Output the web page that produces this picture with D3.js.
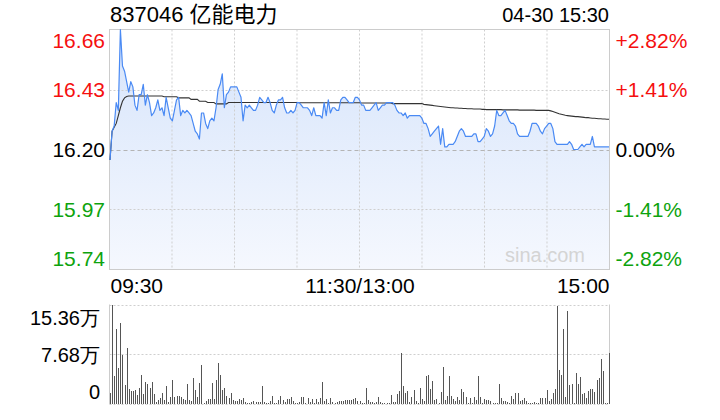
<!DOCTYPE html>
<html><head><meta charset="utf-8">
<script src="https://cdn.jsdelivr.net/npm/d3@7"></script>
<style>
html,body{margin:0;padding:0;background:#fff;}
svg{display:block;font-family:"Liberation Sans",Arial,Helvetica,"Noto Sans CJK SC",sans-serif;}
</style></head><body>
<svg id="chart" width="720" height="420"></svg>
<script>
const titleText = "837046 亿能电力";
const dateText = "04-30 15:30";
const preClose = 16.20;

// minute prices 09:30..11:30 / 13:00..15:00 (241 points)
const prices = [
16.16,16.27,16.29,16.38,16.35,16.66,16.52,16.50,16.46,16.42,
16.46,16.44,16.37,16.35,16.41,16.41,16.45,16.37,16.41,16.38,
16.33,16.34,16.36,16.39,16.35,16.36,16.33,16.40,16.36,16.32,
16.31,16.35,16.39,16.40,16.33,16.35,16.34,16.35,16.34,16.33,
16.30,16.27,16.26,16.24,16.34,16.34,16.30,16.28,16.31,16.32,
16.31,16.36,16.43,16.45,16.49,16.36,16.41,16.42,16.44,16.44,
16.44,16.44,16.42,16.40,16.31,16.37,16.36,16.37,16.36,16.35,
16.35,16.37,16.40,16.39,16.38,16.38,16.40,16.38,16.35,16.34,
16.37,16.39,16.39,16.40,16.36,16.34,16.34,16.35,16.34,16.35,
16.38,16.38,16.37,16.36,16.36,16.36,16.35,16.33,16.36,16.33,
16.33,16.33,16.32,16.38,16.33,16.39,16.34,16.36,16.36,16.35,
16.35,16.39,16.40,16.40,16.39,16.38,16.38,16.38,16.40,16.40,
16.39,16.37,16.37,16.35,16.35,16.35,16.36,16.37,16.38,16.35,
16.36,16.37,16.37,16.38,16.38,16.38,16.38,16.37,16.35,16.34,
16.34,16.33,16.34,16.32,16.33,16.33,16.33,16.33,16.33,16.33,
16.32,16.30,16.30,16.28,16.25,16.26,16.27,16.28,16.29,16.22,
16.28,16.21,16.21,16.22,16.22,16.22,16.23,16.25,16.27,16.28,
16.27,16.25,16.25,16.25,16.25,16.26,16.26,16.23,16.23,16.24,
16.25,16.28,16.27,16.25,16.26,16.29,16.35,16.33,16.33,16.34,
16.35,16.33,16.31,16.30,16.30,16.29,16.26,16.25,16.25,16.25,
16.25,16.25,16.27,16.30,16.30,16.30,16.29,16.27,16.26,16.28,
16.29,16.30,16.30,16.28,16.23,16.22,16.22,16.22,16.22,16.22,
16.22,16.23,16.22,16.20,16.20,16.20,16.21,16.22,16.21,16.22,
16.22,16.22,16.25,16.21,16.21,16.21,16.21,16.21,16.21,16.21,
16.21
];

// average price line
const avgPrices = [
16.160,16.270,16.285,16.300,16.330,16.360,16.385,16.398,16.403,16.405,
16.405,16.405,16.405,16.405,16.405,16.405,16.405,16.405,16.405,16.405,
16.405,16.405,16.405,16.405,16.405,16.405,16.402,16.402,16.402,16.402,
16.402,16.402,16.402,16.398,16.398,16.398,16.398,16.398,16.398,16.392,
16.392,16.392,16.392,16.385,16.385,16.385,16.385,16.380,16.380,16.380,
16.380,16.375,16.375,16.375,16.375,16.375,16.375,16.380,16.380,16.380,
16.380,16.380,16.380,16.380,16.380,16.380,16.380,16.380,16.380,16.380,
16.380,16.380,16.380,16.380,16.380,16.380,16.380,16.380,16.380,16.380,
16.380,16.380,16.380,16.380,16.380,16.380,16.380,16.380,16.380,16.380,
16.380,16.379,16.379,16.379,16.379,16.379,16.379,16.379,16.379,16.379,
16.379,16.379,16.379,16.379,16.379,16.379,16.379,16.379,16.379,16.379,
16.379,16.379,16.379,16.379,16.379,16.379,16.379,16.379,16.379,16.379,
16.379,16.378,16.378,16.378,16.378,16.378,16.378,16.378,16.378,16.378,
16.378,16.378,16.378,16.378,16.378,16.378,16.376,16.376,16.376,16.376,
16.376,16.376,16.376,16.376,16.376,16.376,16.376,16.376,16.376,16.376,
16.376,16.373,16.372,16.371,16.370,16.369,16.368,16.367,16.366,16.365,
16.364,16.363,16.362,16.361,16.360,16.360,16.359,16.359,16.358,16.358,
16.357,16.357,16.356,16.356,16.356,16.355,16.355,16.355,16.355,16.354,
16.354,16.353,16.353,16.353,16.353,16.353,16.353,16.353,16.353,16.352,
16.352,16.352,16.352,16.352,16.352,16.352,16.352,16.351,16.351,16.351,
16.351,16.351,16.351,16.351,16.351,16.350,16.350,16.350,16.350,16.350,
16.350,16.350,16.348,16.346,16.343,16.340,16.337,16.335,16.333,16.331,
16.330,16.329,16.328,16.327,16.326,16.326,16.325,16.324,16.323,16.322,
16.322,16.321,16.320,16.320,16.319,16.318,16.318,16.317,16.317,16.316,
16.316
];

// minute volume, in 万
const volumes = [
1.75,15.36,4.33,11.55,5.62,12.58,7.58,2.94,8.71,2.32,
2.06,2.06,2.16,1.39,2.42,4.48,1.55,3.45,3.09,2.42,
3.40,1.55,0.36,0.62,0.88,1.65,0.62,2.78,0.36,1.13,
3.71,1.03,1.24,1.24,1.13,0.77,0.62,3.09,0.62,0.46,
4.02,2.16,1.13,3.30,5.98,0.10,0.46,0.72,0.72,3.30,
0.72,3.71,6.34,4.48,2.16,2.42,1.24,0.88,1.75,0.62,
0.46,0.46,0.77,0.62,0.93,0.36,0.10,0.21,0.31,0.46,
0.26,0.26,0.26,2.78,0.26,0.21,0.10,0.46,1.24,0.10,
0.21,0.62,1.24,0.62,0.31,0.82,0.72,1.03,0.46,0.21,
0.10,0.36,1.03,1.03,0.21,0.93,0.36,0.82,0.21,0.72,
0.31,0.88,3.40,0.46,0.72,0.10,0.93,0.31,0.21,0.31,
0.41,0.41,0.52,0.57,0.57,0.57,0.62,0.77,0.93,0.52,
0.46,0.21,0.10,2.42,0.62,0.36,0.36,0.10,0.31,1.03,
0.31,0.10,0.21,0.10,0.10,1.34,0.36,0.26,1.55,2.01,
7.83,2.78,1.65,2.06,0.36,1.03,2.16,0.46,0.10,2.42,
0.77,0.52,4.33,4.48,2.32,3.61,0.62,0.72,0.21,1.86,
5.67,0.62,1.24,4.33,1.24,0.72,0.46,1.03,0.62,2.27,
1.86,1.03,0.21,0.93,0.10,1.03,0.62,4.33,1.03,0.21,
0.72,0.62,0.62,0.52,0.10,0.21,0.10,3.09,0.93,0.46,
0.46,0.31,0.10,1.24,0.82,1.75,1.75,0.41,0.62,0.88,
0.52,0.10,0.10,0.21,0.31,0.10,0.21,0.93,0.93,0.93,
2.16,0.41,0.82,1.65,2.27,15.15,5.26,4.48,11.55,1.13,
14.43,2.94,3.09,0.21,4.74,3.09,4.12,1.55,1.65,0.93,
2.06,2.27,2.27,1.86,3.71,4.02,7.01,5.15,0.15,0.20,
7.94
];

const priceTicks = [16.66, 16.43, 16.20, 15.97, 15.74];
const priceTickLabels = ["16.66", "16.43", "16.20", "15.97", "15.74"];
const pctTickLabels = ["+2.82%", "+1.41%", "0.00%", "-1.41%", "-2.82%"];
const timeTickIndex = [0, 120, 240];
const timeTickLabels = ["09:30", "11:30/13:00", "15:00"];
const volTicks = [15.36, 7.68, 0];
const volTickLabels = ["15.36万", "7.68万", "0"];

// ---- layout ----
const L = 109.5, R = 609.5, T = 29.5, B = 269.5;
const VT = 304.5, VB = 404;
const svg = d3.select("#chart");

const x = d3.scaleLinear().domain([0, 240]).range([110, 609]);
const y = d3.scaleLinear().domain([15.74, 16.66]).range([B, T]);
const yv = d3.scaleLinear().domain([0, 15.36]).range([VB, VT]);

const red = "#f50f0f", green = "#0ea30e", black = "#000";
const tickColor = v => v > preClose + 1e-9 ? red : (v < preClose - 1e-9 ? green : black);

// gradient
const defs = svg.append("defs");
const grad = defs.append("linearGradient").attr("id", "fillGrad")
  .attr("gradientUnits", "userSpaceOnUse").attr("x1", 0).attr("x2", 0).attr("y1", T).attr("y2", B);
grad.append("stop").attr("offset", "0%").attr("stop-color", "#d6e4fb");
grad.append("stop").attr("offset", "100%").attr("stop-color", "#f5f8fe");

// area fill
svg.append("path").datum(prices)
  .attr("fill", "url(#fillGrad)")
  .attr("d", d3.area().x((d, i) => x(i)).y0(B).y1(d => y(d)));

// grid
const vGrid = d3.range(1, 8).map(k => L + (R - L) * k / 8);
svg.append("g").selectAll("line").data(vGrid).join("line")
  .attr("x1", d => d).attr("x2", d => d).attr("y1", T).attr("y2", B)
  .attr("stroke", "#cfcfcf").attr("stroke-dasharray", "2,2");
svg.append("g").selectAll("line").data(priceTicks.slice(1, 4)).join("line")
  .attr("x1", L).attr("x2", R).attr("y1", d => Math.round(y(d)) + 0.5).attr("y2", d => Math.round(y(d)) + 0.5)
  .attr("stroke", d => d === preClose ? "#b4b4b4" : "#cfcfcf")
  .attr("stroke-dasharray", d => d === preClose ? "4,3" : "2,2");

// border
svg.append("rect").attr("x", L).attr("y", T).attr("width", R - L).attr("height", B - T)
  .attr("fill", "none").attr("stroke", "#cccccc");

// watermark
svg.append("text").attr("x", 505).attr("y", 262).attr("font-size", 20)
  .attr("fill", "#d4d4d4").text("sina.com");

// avg line
svg.append("path").datum(avgPrices)
  .attr("fill", "none").attr("stroke", "#333").attr("stroke-width", 1.1)
  .attr("d", d3.line().x((d, i) => x(i)).y(d => y(d)));

// price line
svg.append("path").datum(prices)
  .attr("fill", "none").attr("stroke", "#4a8af4").attr("stroke-width", 1.2)
  .attr("stroke-linejoin", "round")
  .attr("d", d3.line().x((d, i) => x(i)).y(d => y(d)));

// left price axis
const priceDy = [17.5, 7, 7, 7, -4.5];
const gL = svg.append("g").attr("transform", "translate(105,0)")
  .call(d3.axisLeft(y).tickValues(priceTicks).tickSize(0).tickPadding(0)
    .tickFormat((d, i) => priceTickLabels[i]));
gL.select(".domain").remove();
gL.selectAll("text").attr("font-size", 21).attr("font-family", null)
  .attr("dy", (d, i) => priceDy[i]).attr("fill", d => tickColor(d));

// right pct axis
const gR = svg.append("g").attr("transform", "translate(615.5,0)")
  .call(d3.axisRight(y).tickValues(priceTicks).tickSize(0).tickPadding(0)
    .tickFormat((d, i) => pctTickLabels[i]));
gR.select(".domain").remove();
gR.selectAll("text").attr("font-size", 21).attr("font-family", null)
  .attr("dy", (d, i) => priceDy[i]).attr("fill", d => tickColor(d));

// time axis
const gT = svg.append("g").attr("transform", `translate(0,${B})`)
  .call(d3.axisBottom(x).tickValues(timeTickIndex).tickSize(0).tickPadding(0)
    .tickFormat((d, i) => timeTickLabels[i]));
gT.select(".domain").remove();
gT.selectAll("text").attr("font-size", 21).attr("font-family", null).attr("fill", "#000")
  .attr("y", 0).attr("dy", 23.5)
  .attr("text-anchor", (d, i) => i === 0 ? "start" : (i === timeTickIndex.length - 1 ? "end" : "middle"));

// title & date
svg.append("text").attr("x", 110).attr("y", 22).attr("font-size", 22).attr("fill", "#000").text(titleText);
svg.append("text").attr("x", 609).attr("y", 22).attr("font-size", 20).attr("fill", "#000")
  .attr("text-anchor", "end").text(dateText);

// volume chart frame
svg.append("g").selectAll("line").data(volTicks).join("line")
  .attr("x1", L).attr("x2", R).attr("y1", d => Math.round(yv(d)) + 0.5).attr("y2", d => Math.round(yv(d)) + 0.5)
  .attr("stroke", "#cfcfcf").attr("stroke-dasharray", "2,2");
svg.append("line").attr("x1", L).attr("x2", L).attr("y1", VT).attr("y2", VB).attr("stroke", "#cccccc");
svg.append("line").attr("x1", R).attr("x2", R).attr("y1", VT).attr("y2", VB).attr("stroke", "#cccccc");

// volume bars
svg.append("g").attr("shape-rendering", "crispEdges").selectAll("rect").data(volumes).join("rect")
  .attr("x", (d, i) => Math.round(x(i)))
  .attr("width", 1)
  .attr("y", d => yv(d))
  .attr("height", d => VB - yv(d))
  .attr("fill", "#555");

// volume axis
const volDy = [20, 7.7, -6];
const gV = svg.append("g").attr("transform", "translate(100,0)")
  .call(d3.axisLeft(yv).tickValues(volTicks).tickSize(0).tickPadding(0)
    .tickFormat((d, i) => volTickLabels[i]));
gV.select(".domain").remove();
gV.selectAll("text").attr("font-size", 20).attr("font-family", null).attr("fill", "#000")
  .attr("dy", (d, i) => volDy[i]);
</script>
</body></html>
